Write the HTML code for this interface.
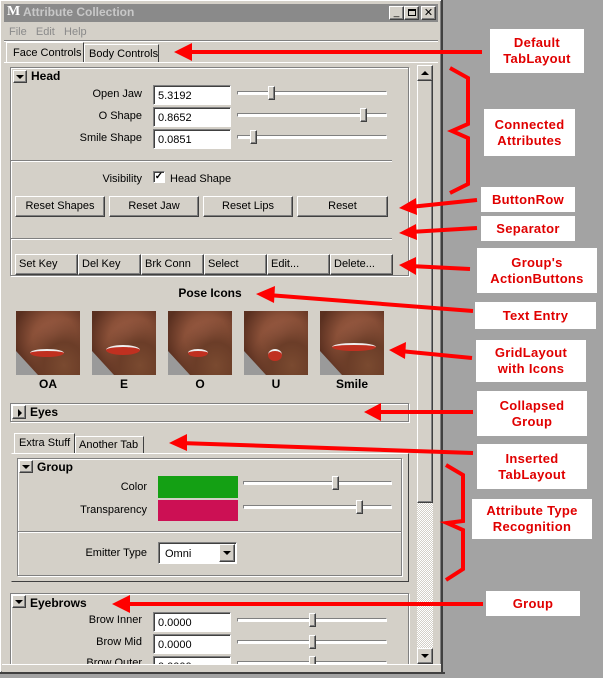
<!DOCTYPE html>
<html><head><meta charset="utf-8"><style>
*{box-sizing:border-box;margin:0;padding:0}
body{width:603px;height:678px;background:#a3a3a3;position:relative;overflow:hidden;font-family:"Liberation Sans",sans-serif;font-size:11px;color:#000;white-space:nowrap}
.a{position:absolute}
.win{left:0;top:0;width:443px;height:674px;background:#d4d0c8;border-right:2px solid #404040;border-bottom:2px solid #404040;box-shadow:inset 1px 1px 0 #fff,inset -1px -1px 0 #808080}
.raised{background:#d4d0c8;border:1px solid;border-color:#fff #404040 #404040 #fff;box-shadow:inset -1px -1px 0 #808080}
.sunk{background:#fff;border:1px solid;border-color:#808080 #fff #fff #808080;box-shadow:inset 1px 1px 0 #404040}
.frame{border:1px solid #808080;box-shadow:1px 1px 0 #fff,inset 1px 1px 0 #fff}
.lbl{text-align:right;width:120px}
.hl{height:2px;border-top:1px solid #808080;border-bottom:1px solid #fff}
.track{height:4px;border:1px solid;border-color:#808080 #fff #fff #808080;background:#fff}
.hd{width:7px;height:14px}
.btn{height:21px;text-align:center;line-height:19px}
.abtn{height:21px;line-height:19px;padding-left:3px}
.tri{width:0;height:0;border-left:4px solid transparent;border-right:4px solid transparent;border-top:4px solid #000}
.face{width:64px;height:64px;background:radial-gradient(ellipse at 75% 85%,#7a4a30 0,#6b3d28 30%,transparent 60%),radial-gradient(ellipse at 60% 40%,#a06048 0,#8a5038 40%,#5a3020 75%),#999}
.mouth{position:absolute;left:14px;top:38px;width:34px;height:8px;border-radius:50%;background:#c03020;border-top:2px solid #eee}
.face b{position:absolute;left:0;bottom:0;width:0;height:0;border-left:22px solid #9a9a9a;border-top:24px solid transparent}
.cap{font-weight:bold;font-size:12px;text-align:center;width:64px}
.call{background:#fff;color:#e00000;font-weight:bold;font-size:13px;text-align:center;line-height:16px;display:flex;align-items:center;justify-content:center;letter-spacing:.3px}
</style></head><body>
<div class="a win"></div>
<!-- title -->
<div class="a" style="left:4px;top:4px;width:434px;height:18px;background:#8a8a8a"></div>
<div class="a" style="left:7px;top:4px;font-weight:bold;font-size:14px;color:#fff;font-family:'Liberation Serif',serif">M</div>
<div class="a" style="left:23px;top:5px;color:#c8c8c8;font-weight:bold;font-size:12px">Attribute Collection</div>
<div class="a raised" style="left:389px;top:6px;width:15px;height:14px;font-size:10px;line-height:12px;text-align:center">_</div>
<div class="a raised" style="left:404px;top:6px;width:15px;height:14px"><div class="a" style="left:3px;top:2px;width:8px;height:7px;border:1px solid #000;border-top-width:2px"></div></div>
<div class="a raised" style="left:421px;top:6px;width:15px;height:14px;font-size:11px;line-height:12px;text-align:center">✕</div>
<div class="a" style="left:9px;top:26px;color:#8a8a8a">File &nbsp;&nbsp;Edit &nbsp;&nbsp;Help</div>
<div class="a hl" style="left:4px;top:40px;width:434px"></div>
<!-- main tabs -->
<div class="a" style="left:6px;top:42px;width:78px;height:21px;border:1px solid;border-color:#fff #404040 transparent #fff;background:#d4d0c8;padding:4px 0 0 6px">Face Controls</div>
<div class="a" style="left:84px;top:44px;width:75px;height:19px;border:1px solid;border-color:#fff #404040 transparent #fff;padding:3px 0 0 4px">Body Controls</div>
<div class="a" style="left:4px;top:62px;width:434px;height:1px;background:#fff"></div>
<!-- scrollbar -->
<div class="a" style="left:417px;top:65px;width:16px;height:599px;background:repeating-conic-gradient(#d4d0c8 0 25%,#fff 0 50%) 0 0/2px 2px"></div>
<div class="a raised" style="left:417px;top:65px;width:16px;height:438px"></div>
<div class="a raised" style="left:417px;top:65px;width:16px;height:16px"><div class="a tri" style="left:3px;top:5px;transform:rotate(180deg)"></div></div>
<div class="a raised" style="left:417px;top:648px;width:16px;height:16px"><div class="a tri" style="left:3px;top:5px"></div></div>
<!-- Head -->
<div class="a frame" style="left:10px;top:67px;width:399px;height:209px"></div>
<div class="a raised" style="left:13px;top:70px;width:14px;height:13px"><div class="a tri" style="left:2px;top:4px"></div></div>
<div class="a" style="left:31px;top:69px;font-weight:bold;font-size:12px">Head</div>
<div class="a lbl" style="left:22px;top:88px">Open Jaw</div>
<div class="a lbl" style="left:22px;top:110px">O Shape</div>
<div class="a lbl" style="left:22px;top:132px">Smile Shape</div>
<div class="a sunk" style="left:153px;top:85px;width:78px;height:20px;padding:4px 0 0 4px">5.3192</div>
<div class="a sunk" style="left:153px;top:107px;width:78px;height:20px;padding:4px 0 0 4px">0.8652</div>
<div class="a sunk" style="left:153px;top:129px;width:78px;height:20px;padding:4px 0 0 4px">0.0851</div>
<div class="a track" style="left:237px;top:91px;width:150px"></div><div class="a raised hd" style="left:268px;top:86px"></div>
<div class="a track" style="left:237px;top:113px;width:150px"></div><div class="a raised hd" style="left:360px;top:108px"></div>
<div class="a track" style="left:237px;top:135px;width:150px"></div><div class="a raised hd" style="left:250px;top:130px"></div>
<div class="a hl" style="left:11px;top:160px;width:381px"></div>
<div class="a" style="left:22px;top:173px;width:120px;text-align:right">Visibility</div>
<div class="a sunk" style="left:153px;top:171px;width:12px;height:12px;font-size:10px;line-height:9px;text-align:center;font-weight:bold">✓</div>
<div class="a" style="left:170px;top:173px">Head Shape</div>
<div class="a raised btn" style="left:15px;top:196px;width:90px">Reset Shapes</div>
<div class="a raised btn" style="left:109px;top:196px;width:90px">Reset Jaw</div>
<div class="a raised btn" style="left:203px;top:196px;width:90px">Reset Lips</div>
<div class="a raised btn" style="left:297px;top:196px;width:91px">Reset</div>
<div class="a hl" style="left:11px;top:238px;width:381px"></div>
<div class="a raised abtn" style="left:15px;top:254px;width:63px">Set Key</div>
<div class="a raised abtn" style="left:78px;top:254px;width:63px">Del Key</div>
<div class="a raised abtn" style="left:141px;top:254px;width:63px">Brk Conn</div>
<div class="a raised abtn" style="left:204px;top:254px;width:63px">Select</div>
<div class="a raised abtn" style="left:267px;top:254px;width:63px">Edit...</div>
<div class="a raised abtn" style="left:330px;top:254px;width:63px">Delete...</div>
<!-- pose icons -->
<div class="a" style="left:150px;top:286px;width:120px;text-align:center;font-weight:bold;font-size:12px">Pose Icons</div>
<div class="a face" style="left:16px;top:311px"><b></b><div class="mouth"></div></div>
<div class="a face" style="left:92px;top:311px"><b></b><div class="mouth" style="top:34px;height:10px"></div></div>
<div class="a face" style="left:168px;top:311px"><b></b><div class="mouth" style="width:20px;left:20px"></div></div>
<div class="a face" style="left:244px;top:311px"><b></b><div class="mouth" style="width:14px;left:24px;height:12px"></div></div>
<div class="a face" style="left:320px;top:311px"><b></b><div class="mouth" style="top:32px;width:44px;left:12px"></div></div>
<div class="a cap" style="left:16px;top:377px">OA</div>
<div class="a cap" style="left:92px;top:377px">E</div>
<div class="a cap" style="left:168px;top:377px">O</div>
<div class="a cap" style="left:244px;top:377px">U</div>
<div class="a cap" style="left:320px;top:377px">Smile</div>
<!-- Eyes -->
<div class="a frame" style="left:10px;top:403px;width:399px;height:19px"></div>
<div class="a raised" style="left:12px;top:405px;width:14px;height:14px"><div class="a" style="left:5px;top:3px;border-top:4px solid transparent;border-bottom:4px solid transparent;border-left:4px solid #000"></div></div>
<div class="a" style="left:30px;top:405px;font-weight:bold;font-size:12px">Eyes</div>
<!-- inner tabs -->
<div class="a" style="left:14px;top:433px;width:61px;height:21px;border:1px solid;border-color:#fff #404040 transparent #fff;padding:3px 0 0 4px">Extra Stuff</div>
<div class="a" style="left:75px;top:436px;width:69px;height:18px;border:1px solid;border-color:#fff #404040 transparent #fff;padding:2px 0 0 3px">Another Tab</div>
<div class="a" style="left:11px;top:453px;width:398px;height:129px;border:1px solid;border-color:#fff #404040 #404040 transparent"></div>
<div class="a frame" style="left:17px;top:458px;width:385px;height:118px"></div>
<div class="a raised" style="left:19px;top:460px;width:14px;height:13px"><div class="a tri" style="left:2px;top:4px"></div></div>
<div class="a" style="left:37px;top:460px;font-weight:bold;font-size:12px">Group</div>
<div class="a lbl" style="left:27px;top:481px">Color</div>
<div class="a lbl" style="left:27px;top:504px">Transparency</div>
<div class="a" style="left:158px;top:476px;width:80px;height:22px;background:#14a014"></div>
<div class="a" style="left:158px;top:500px;width:80px;height:21px;background:#cc1054"></div>
<div class="a track" style="left:243px;top:481px;width:149px"></div><div class="a raised hd" style="left:332px;top:476px"></div>
<div class="a track" style="left:243px;top:505px;width:149px"></div><div class="a raised hd" style="left:356px;top:500px"></div>
<div class="a hl" style="left:18px;top:531px;width:383px"></div>
<div class="a lbl" style="left:27px;top:547px">Emitter Type</div>
<div class="a sunk" style="left:158px;top:542px;width:79px;height:22px;padding:5px 0 0 6px">Omni</div>
<div class="a raised" style="left:219px;top:544px;width:16px;height:18px"><div class="a tri" style="left:3px;top:6px"></div></div>
<!-- Eyebrows -->
<div class="a frame" style="left:10px;top:593px;width:399px;height:80px"></div>
<div class="a raised" style="left:12px;top:595px;width:14px;height:13px"><div class="a tri" style="left:2px;top:4px"></div></div>
<div class="a" style="left:30px;top:596px;font-weight:bold;font-size:12px">Eyebrows</div>
<div class="a lbl" style="left:22px;top:614px">Brow Inner</div>
<div class="a lbl" style="left:22px;top:636px">Brow Mid</div>
<div class="a lbl" style="left:22px;top:657px">Brow Outer</div>
<div class="a sunk" style="left:153px;top:612px;width:78px;height:20px;padding:4px 0 0 4px">0.0000</div>
<div class="a sunk" style="left:153px;top:634px;width:78px;height:20px;padding:4px 0 0 4px">0.0000</div>
<div class="a sunk" style="left:153px;top:656px;width:78px;height:20px;padding:4px 0 0 4px">0.0000</div>
<div class="a track" style="left:237px;top:618px;width:150px"></div><div class="a raised hd" style="left:309px;top:613px"></div>
<div class="a track" style="left:237px;top:640px;width:150px"></div><div class="a raised hd" style="left:309px;top:635px"></div>
<div class="a track" style="left:237px;top:661px;width:150px"></div><div class="a raised hd" style="left:309px;top:656px"></div>
<div class="a" style="left:2px;top:664px;width:439px;height:8px;background:#d4d0c8;border-top:1px solid #fff"></div>
<div class="a" style="left:0;top:672px;width:445px;height:2px;background:#404040"></div>
<div class="a" style="left:0;top:674px;width:603px;height:4px;background:#a3a3a3"></div>
<!-- callouts -->
<div class="a call" style="left:490px;top:29px;width:94px;height:44px">Default<br>TabLayout</div>
<div class="a call" style="left:484px;top:109px;width:91px;height:47px">Connected<br>Attributes</div>
<div class="a call" style="left:481px;top:187px;width:94px;height:25px">ButtonRow</div>
<div class="a call" style="left:481px;top:216px;width:94px;height:25px">Separator</div>
<div class="a call" style="left:477px;top:248px;width:120px;height:45px">Group's<br>ActionButtons</div>
<div class="a call" style="left:475px;top:302px;width:121px;height:27px">Text Entry</div>
<div class="a call" style="left:476px;top:340px;width:110px;height:42px">GridLayout<br>with Icons</div>
<div class="a call" style="left:477px;top:391px;width:110px;height:45px">Collapsed<br>Group</div>
<div class="a call" style="left:477px;top:444px;width:110px;height:45px">Inserted<br>TabLayout</div>
<div class="a call" style="left:472px;top:499px;width:120px;height:40px">Attribute Type<br>Recognition</div>
<div class="a call" style="left:486px;top:591px;width:94px;height:25px">Group</div>
<svg class="a" style="left:0;top:0" width="603" height="678">
<g stroke="#f00" stroke-width="4" fill="none">
<line x1="482" y1="52" x2="185" y2="52"/>
<line x1="477" y1="200" x2="410" y2="207"/>
<line x1="477" y1="228" x2="410" y2="232"/>
<line x1="470" y1="269" x2="410" y2="266"/>
<line x1="473" y1="311" x2="268" y2="295"/>
<line x1="472" y1="358" x2="400" y2="351"/>
<line x1="473" y1="412" x2="375" y2="412"/>
<line x1="473" y1="453" x2="180" y2="443"/>
<line x1="483" y1="604" x2="123" y2="604"/>
<polyline points="450,68 468,78 468,124 452,131 468,138 468,184 450,193"/>
<polyline points="446,465 463,475 463,521 447,523 463,530 463,569 446,580"/>
</g>
<g fill="#f00">
<polygon points="174,52 192,43 192,61"/>
<polygon points="399,208 416,198 417,215"/>
<polygon points="399,233 416,224 417,240"/>
<polygon points="399,265 416,257 416,275"/>
<polygon points="256,294 275,286 274,303"/>
<polygon points="389,350 406,342 405,359"/>
<polygon points="364,412 381,403 381,421"/>
<polygon points="169,443 187,434 187,451"/>
<polygon points="112,604 130,595 130,613"/>
</g>
</svg>
</body></html>
